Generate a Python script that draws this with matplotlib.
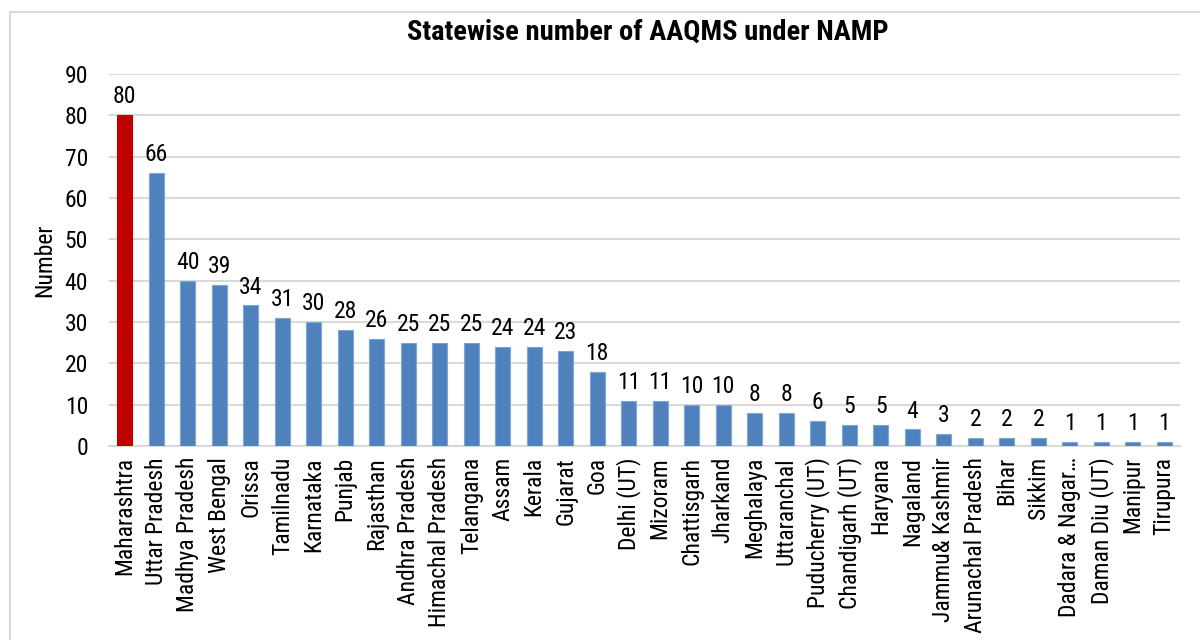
import matplotlib
matplotlib.use("Agg")
import matplotlib.pyplot as plt
from matplotlib.patches import Rectangle
from matplotlib import font_manager
from matplotlib.font_manager import FontProperties

states = ["Maharashtra", "Uttar Pradesh", "Madhya Pradesh", "West Bengal", "Orissa",
          "Tamilnadu", "Karnataka", "Punjab", "Rajasthan", "Andhra Pradesh",
          "Himachal Pradesh", "Telangana", "Assam", "Kerala", "Gujarat", "Goa",
          "Delhi (UT)", "Mizoram", "Chattisgarh", "Jharkand", "Meghalaya",
          "Uttaranchal", "Puducherry (UT)", "Chandigarh (UT)", "Haryana", "Nagaland",
          "Jammu& Kashmir", "Arunachal Pradesh", "Bihar", "Sikkim",
          "Dadara & Nagar…", "Daman Diu (UT)", "Manipur", "Tirupura"]
counts = [80, 66, 40, 39, 34, 31, 30, 28, 26, 25, 25, 25, 24, 24, 23, 18,
          11, 11, 10, 10, 8, 8, 6, 5, 5, 4, 3, 2, 2, 2, 1, 1, 1, 1]
yticks = [0, 10, 20, 30, 40, 50, 60, 70, 80, 90]


def _stretch_val(s):
    table = {'ultra-condensed': 100, 'extra-condensed': 200, 'condensed': 300,
             'semi-condensed': 400, 'normal': 500, 'semi-expanded': 600,
             'expanded': 700, 'extra-expanded': 800, 'ultra-expanded': 900}
    if isinstance(s, str):
        return table.get(s, 500)
    return int(s)


def _weight_val(w):
    table = {'ultralight': 200, 'light': 300, 'normal': 400, 'regular': 400, 'book': 400,
             'medium': 500, 'semibold': 600, 'demibold': 600, 'bold': 700,
             'heavy': 800, 'extra bold': 800, 'black': 900}
    if isinstance(w, str):
        return table.get(w.lower(), 400)
    return int(w)


def find_narrow(weight):
    prefs = ['Liberation Sans Narrow', 'Arial Narrow', 'Roboto Condensed', 'Open Sans Condensed',
             'Noto Sans', 'Open Sans', 'Roboto', 'Noto Sans Display', 'DejaVu Sans']
    best = None
    for f in font_manager.fontManager.ttflist:
        if f.style != 'normal':
            continue
        name = f.name
        st = _stretch_val(f.stretch)
        narrow = ('Narrow' in name) or ('Condensed' in name) or st < 500 \
            or ('Condensed' in f.fname) or ('Narrow' in f.fname)
        if not narrow:
            continue
        base = None
        for i, p in enumerate(prefs):
            if name.startswith(p):
                base = i
                break
        if base is None:
            continue
        fnl = f.fname.lower()
        if 'extracondensed' in fnl or 'extra' in fnl or 'ultra' in fnl or st <= 200:
            spen = 2
        elif 'semicondensed' in fnl or st == 400:
            spen = 0
        else:
            spen = 1
        wpen = abs(_weight_val(f.weight) - weight)
        key = (base, spen, wpen)
        if best is None or key < best[0]:
            best = (key, f.fname)
    return best[1] if best else None


reg_path = find_narrow(400)
bold_path = find_narrow(700)
if reg_path:
    fp_reg = FontProperties(fname=reg_path, size=17)
    fp_lab = FontProperties(fname=reg_path, size=17)
else:
    fp_reg = FontProperties(family='Liberation Sans', size=15)
    fp_lab = FontProperties(family='Liberation Sans', size=14)
if bold_path:
    fp_bold = FontProperties(fname=bold_path, size=20.5, weight='bold')
else:
    fp_bold = FontProperties(family='Liberation Sans', size=17, weight='bold')

fig = plt.figure(figsize=(12, 6.4), dpi=100)
ax = fig.add_axes([109/1200, 1 - 446/640, (1180 - 109)/1200, (446 - 74)/640])

colors = ['#C00000'] + ['#4F81BD'] * (len(states) - 1)
edges = ['#C00000'] + ['#7EA6D8'] * (len(states) - 1)
x = list(range(len(states)))
ax.bar(x, counts, width=0.47, color=colors, edgecolor=edges, linewidth=0.8, zorder=3)

for xi, v in zip(x, counts):
    ax.annotate(str(v), (xi, v), xytext=(0, 5), textcoords='offset points',
                ha='center', va='bottom', fontproperties=fp_reg, color='black')

ax.set_xlim(-0.5, len(states) - 0.5)
ax.set_ylim(0, 90)
ax.set_yticks(yticks)
ax.set_yticklabels([str(t) for t in yticks], fontproperties=fp_reg)
ax.set_xticks(x)
ax.set_xticklabels(states, rotation=90, fontproperties=fp_lab)
ax.tick_params(axis='both', length=0)
ax.tick_params(axis='x', pad=8)
ax.tick_params(axis='y', pad=15)
ax.grid(axis='y', color='#D9D9D9', linewidth=1.5, zorder=0)
for s in ['left', 'right', 'top']:
    ax.spines[s].set_visible(False)
ax.spines['bottom'].set_color('#D9D9D9')
ax.spines['bottom'].set_linewidth(1.5)
ax.set_ylabel('Number', fontproperties=fp_reg, labelpad=6)

fig.text(0.54, 1 - 32/640, 'Statewise number of AAQMS under NAMP', ha='center', va='center',
         fontproperties=fp_bold)

fig.patches.append(Rectangle((10/1200, -0.2), 1.2, 1 - 12/640 + 0.2, transform=fig.transFigure,
                             fill=False, edgecolor='#D9D9D9', linewidth=1.5, zorder=0))

fig.savefig('out.png', dpi=100, facecolor='white')
